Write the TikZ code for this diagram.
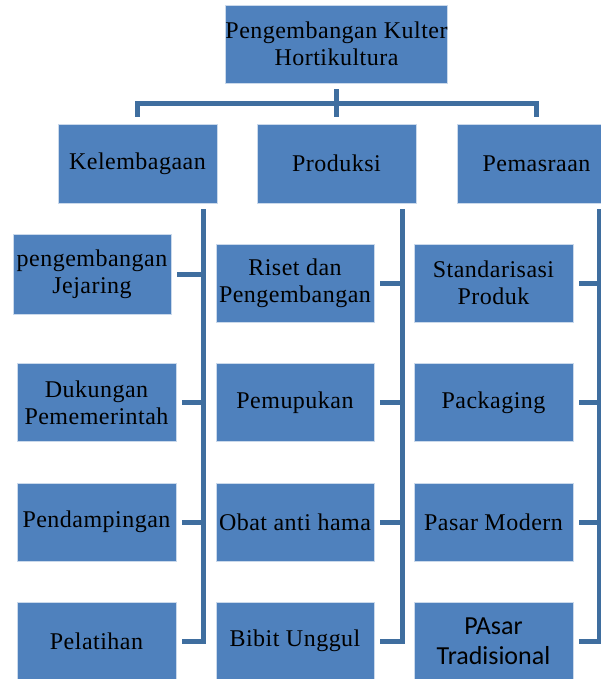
\documentclass[tikz,border=0pt]{standalone}
\usepackage{fontspec}
\setmainfont{Liberation Serif}[LetterSpace=2]
\newfontfamily\calfont{Carlito}
\definecolor{boxblue}{HTML}{4F81BD}
\definecolor{lineblue}{HTML}{3F6E9F}
\begin{document}
\begin{tikzpicture}[x=1pt,y=-1pt,
  box/.style={fill=boxblue, draw=white!70!boxblue, line width=0.8pt, inner sep=0pt,
    minimum height=78pt, align=center, font=\fontsize{24}{27}\selectfont, text=black},
  wbox/.style={box, minimum width=159pt},
  conn/.style={draw=lineblue, line width=5pt, line cap=butt, line join=miter}]
\useasboundingbox (0,0) rectangle (601,679);
\clip (0,0) rectangle (601,679);
% top
\node[box, minimum width=219pt] (top) at (336.5,44) {Pengembangan Kulter\\Hortikultura};
% second row
\node[wbox, minimum height=79pt] (kel) at (137.5,163.5) {Kelembagaan};
\node[wbox, minimum height=79pt] (prod) at (336.5,163.5) {Produksi};
\node[wbox, minimum height=79pt] (pem) at (536.5,163.5) {Pemasraan};
% left column
\node[box, minimum width=158pt, minimum height=80pt] (k1) at (92,274) {pengembangan\\Jejaring};
\node[wbox] (k2) at (96.5,402.5) {Dukungan\\Pememerintah};
\node[wbox] (k3) at (96.5,522) {Pendampingan};
\node[wbox] (k4) at (96.5,641) {Pelatihan};
% middle column
\node[box, minimum width=158pt] (p1) at (295,283) {Riset dan\\Pengembangan};
\node[box, minimum width=158pt] (p2) at (295,402.5) {Pemupukan};
\node[box, minimum width=158pt] (p3) at (295,522) {Obat anti hama};
\node[box, minimum width=158pt] (p4) at (295,641) {Bibit Unggul};
% right column
\node[wbox] (m1) at (493.5,283) {Standarisasi\\Produk};
\node[wbox] (m2) at (493.5,402.5) {Packaging};
\node[wbox] (m3) at (493.5,522) {Pasar Modern};
\node[wbox, font=\calfont\fontsize{26}{30}\selectfont] (m4) at (493.5,641) {PAsar\\Tradisional};
% top connectors
\draw[conn] ([yshift=-6pt]top.south) -- ([yshift=-34pt]top.south);
\draw[conn] ([yshift=7pt]kel.north) -- ([yshift=20pt]kel.north) -| ([yshift=7pt]pem.north);
\draw[conn] ([yshift=7pt]prod.north) -- ([yshift=20pt]prod.north);
% column verticals
\coordinate (kv) at (203,209);
\coordinate (pv) at (402,209);
\coordinate (mv) at (599,209);
\draw[conn] (kv) |- ([xshift=6pt]k4.east);
\draw[conn] (pv) |- ([xshift=6pt]p4.east);
\draw[conn] (mv) |- ([xshift=6pt]m4.east);
\foreach \n in {k1,k2,k3} \draw[conn] ([xshift=6pt]\n.east) -- (\n.east -| kv);
\foreach \n in {p1,p2,p3} \draw[conn] ([xshift=6pt]\n.east) -- (\n.east -| pv);
\foreach \n in {m1,m2,m3} \draw[conn] ([xshift=6pt]\n.east) -- (\n.east -| mv);
\end{tikzpicture}
\end{document}
